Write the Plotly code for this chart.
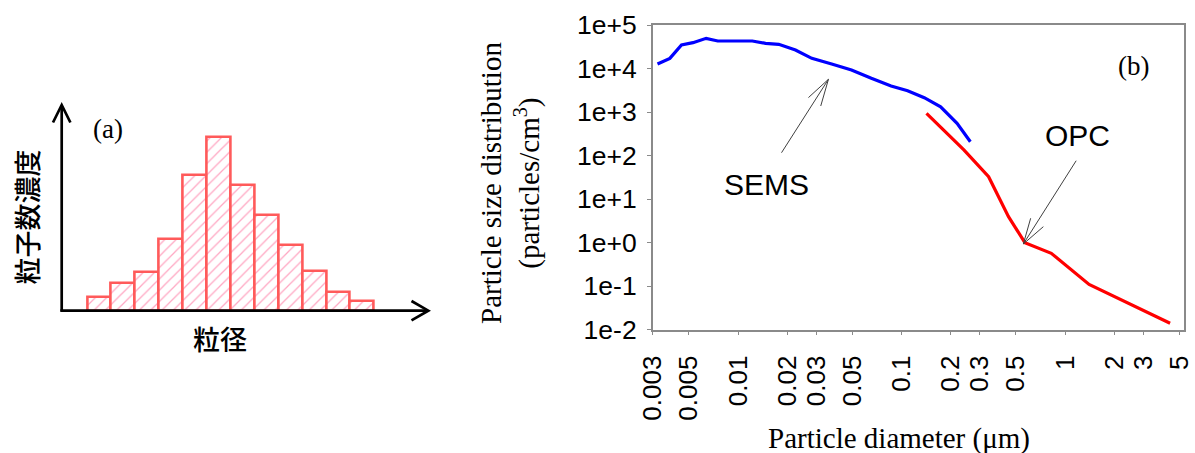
import numpy as np
import plotly.graph_objects as go

# ---------------- data ----------------
# (a) schematic size histogram (arbitrary units)
bin_index = list(range(1, 13))
bin_counts = [1.4, 2.9, 4.0, 7.4, 14.0, 18.0, 13.0, 9.9, 6.8, 4.1, 1.9, 1.0]

# (b) SEMS size distribution
sems_diam = [0.00321, 0.00382, 0.0045, 0.00529, 0.00637, 0.0075, 0.00923, 0.0122,
             0.0147, 0.0177, 0.0224, 0.0282, 0.0373, 0.0493, 0.0652, 0.0861,
             0.1087, 0.1374, 0.173, 0.218, 0.263]
sems_conc = [12700, 17100, 34700, 39200, 49400, 42900, 42900, 42900,
             37900, 36000, 26600, 17100, 12700, 9250, 5960, 3960,
             3090, 2130, 1320, 550, 207]

# (b) OPC size distribution
opc_diam = [0.1418, 0.24, 0.34, 0.45, 0.567, 0.822, 1.40, 2.45, 4.38]
opc_conc = [933, 134, 32.6, 3.92, 0.99, 0.565, 0.109, 0.040, 0.0139]

x_tick_vals = [0.003, 0.005, 0.01, 0.02, 0.03, 0.05, 0.1, 0.2, 0.3, 0.5, 1, 2, 3, 5]
x_tick_text = ["0.003", "0.005", "0.01", "0.02", "0.03", "0.05", "0.1",
               "0.2", "0.3", "0.5", "1", "2", "3", "5"]
y_tick_vals = [1e-2, 1e-1, 1e0, 1e1, 1e2, 1e3, 1e4, 1e5]
y_tick_text = ["1e-2", "1e-1", "1e+0", "1e+1", "1e+2", "1e+3", "1e+4", "1e+5"]

# ---------------- page geometry ----------------
W, H = 1195, 453


def px(x):
    return x / W


def py(y):
    return 1 - y / H


SANS = "Liberation Sans, Arial, sans-serif"
SERIF = "Liberation Serif, Times New Roman, serif"
CJK = "Noto Sans CJK JP, sans-serif"
AXIS_GREY = "#8a8a8a"
POINTER = "#404040"

fig = go.Figure()

# (a) histogram bars with diagonal hatching
fig.add_trace(go.Bar(
    x=bin_index, y=bin_counts, width=1.0,
    marker=dict(
        color="white",
        line=dict(color="#ff5a5a", width=2.6),
        pattern=dict(shape="/", fgcolor="#ff4f86", bgcolor="white",
                     size=8, solidity=0.16),
    ),
    xaxis="x2", yaxis="y2", showlegend=False, hoverinfo="skip",
))

# (b) SEMS and OPC curves
fig.add_trace(go.Scatter(
    x=sems_diam, y=sems_conc, mode="lines",
    line=dict(color="#0000ff", width=3.2), showlegend=False,
))
fig.add_trace(go.Scatter(
    x=opc_diam, y=opc_conc, mode="lines",
    line=dict(color="#ff0000", width=3.2), showlegend=False,
))

# log-axis range; the upper end runs slightly past 5 so the "5" label fits
x_lo, x_hi = np.log10(0.003), 0.7235
y_lo, y_hi = -2, 5

fig.update_layout(
    width=W, height=H,
    margin=dict(l=0, r=0, t=0, b=0, pad=0, autoexpand=False),
    paper_bgcolor="white", plot_bgcolor="white",
    bargap=0, showlegend=False,
    xaxis=dict(
        type="log", range=[x_lo, x_hi], automargin=False,
        domain=[px(652.7), px(1183.5)],
        showline=True, mirror=True, linecolor=AXIS_GREY, linewidth=1.5,
        showgrid=False, zeroline=False,
        tickmode="array", tickvals=x_tick_vals, ticktext=x_tick_text,
        ticks="outside", ticklen=4, tickcolor=AXIS_GREY, tickwidth=1,
        tickangle=-90, ticklabelstandoff=10, ticklabeloverflow="allow",
        tickfont=dict(family=SANS, size=26, color="black"),
    ),
    yaxis=dict(
        type="log", range=[y_lo, y_hi], automargin=False,
        domain=[py(329.5), py(25)],
        showline=True, mirror=True, linecolor=AXIS_GREY, linewidth=1.5,
        showgrid=False, zeroline=False,
        tickmode="array", tickvals=y_tick_vals, ticktext=y_tick_text,
        ticks="outside", ticklen=4, tickcolor=AXIS_GREY, tickwidth=1,
        ticklabelstandoff=5, ticklabeloverflow="allow",
        tickfont=dict(family=SANS, size=26.5, color="black"),
    ),
    xaxis2=dict(
        range=[-0.569, 14.76], domain=[px(61.7), px(428)],
        visible=False, anchor="y2", automargin=False,
    ),
    yaxis2=dict(
        range=[0, 21.27], domain=[py(310.7), py(105)],
        visible=False, anchor="x2", automargin=False,
    ),
)

# (a) axes drawn as arrows
ax_col = "black"
ax_w = 2.7
shapes = [
    dict(type="line", xref="paper", yref="paper",
         x0=px(61.7), y0=py(311.5), x1=px(61.7), y1=py(106),
         line=dict(color=ax_col, width=ax_w)),
    dict(type="path", xref="paper", yref="paper",
         path=f"M {px(53.0)},{py(122.5)} L {px(61.7)},{py(105)} L {px(70.4)},{py(122.5)}",
         line=dict(color=ax_col, width=ax_w)),
    dict(type="line", xref="paper", yref="paper",
         x0=px(60.4), y0=py(310.7), x1=px(427), y1=py(310.7),
         line=dict(color=ax_col, width=ax_w)),
    dict(type="path", xref="paper", yref="paper",
         path=f"M {px(411.5)},{py(301.0)} L {px(428.3)},{py(310.7)} L {px(411.5)},{py(320.4)}",
         line=dict(color=ax_col, width=ax_w)),
]


def dom_x(logx):
    return (logx - x_lo) / (x_hi - x_lo)


def dom_y(logy):
    return (logy - y_lo) / (y_hi - y_lo)


def pointer(tip, tail, barbs):
    """Thin pointer in panel (b): shaft between log-space points, open barbs in px."""
    tx, ty = dom_x(tip[0]), dom_y(tip[1])
    items = [dict(type="line", xref="x domain", yref="y domain",
                  x0=dom_x(tail[0]), y0=dom_y(tail[1]), x1=tx, y1=ty,
                  line=dict(color=POINTER, width=1))]
    for bx, by in barbs:
        items.append(dict(type="line", xref="x domain", yref="y domain",
                          xsizemode="pixel", ysizemode="pixel",
                          xanchor=tx, yanchor=ty,
                          x0=0, y0=0, x1=bx, y1=-by,
                          line=dict(color=POINTER, width=1)))
    return items


shapes += pointer((-1.448, 3.752), (-1.735, 2.064), [(-20, 18.3), (-7.7, 26.7)])
shapes += pointer((-0.256, -0.034), (0.067, 1.88), [(7.3, -25.7), (20, -17.3)])
fig.update_layout(shapes=shapes)


def label(text, x, y, font, angle=0, xref="paper", yref="paper"):
    return dict(text=text, x=x, y=y, xref=xref, yref=yref, textangle=angle,
                xanchor="center", yanchor="middle", showarrow=False, font=font)


serif_font = dict(family=SERIF, size=29, color="black")
cjk_font = dict(family=CJK, size=27, color="black", weight=500)

annotations = [
    # panel (a) labels
    label("(a)", px(107.5), py(129), dict(family=SERIF, size=27, color="black")),
    label("粒子数濃度", px(26.7), py(216.7), cjk_font, angle=-90),
    label("粒径", px(220), py(338.5), cjk_font),
    # panel (b) labels
    label("(b)", px(1133), py(66), dict(family=SERIF, size=27, color="black")),
    label("Particle size distribution<br>(particles/cm<sup>3</sup>)",
          px(510), py(183), serif_font, angle=-90),
    label("Particle diameter (μm)", px(899), py(438), serif_font),
    # instrument labels
    label("SEMS", -1.824, 1.322, dict(family=SANS, size=30, color="black"),
          xref="x", yref="y"),
    label("OPC", 0.077, 2.471, dict(family=SANS, size=30, color="black"),
          xref="x", yref="y"),
]
fig.update_layout(annotations=annotations)

fig.write_html("out.html")
